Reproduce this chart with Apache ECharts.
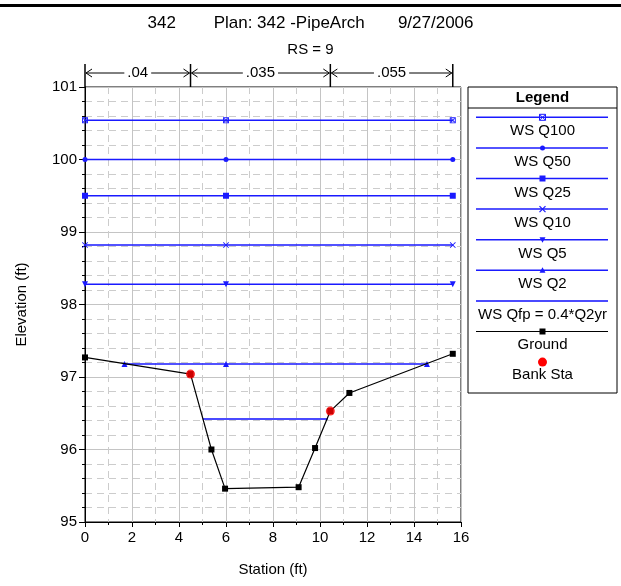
<!DOCTYPE html>
<html>
<head>
  <meta charset="UTF-8" />
  <title>342 RS = 9</title>
  <script src="https://cdn.jsdelivr.net/npm/echarts@6/dist/echarts.min.js"></script>
  <style>
    body { margin: 0; padding: 0; background: #fff; }
    #main { width: 621px; height: 586px; }
  </style>
</head>
<body>
  <div id="main"></div>
  <script>
    const FONT = "'Liberation Sans', Arial, sans-serif";

    // water surfaces
    const wsNames = ['WS Q100', 'WS Q50', 'WS Q25', 'WS Q10', 'WS Q5', 'WS Q2', 'WS Qfp = 0.4*Q2yr'];
    const wsElev = [100.54, 100.0, 99.50, 98.82, 98.28, 97.18, 96.42];
    const wsStations = [
      [0, 6, 15.65],
      [0, 6, 15.65],
      [0, 6, 15.65],
      [0, 6, 15.65],
      [0, 6, 15.65],
      [1.68, 6, 14.55],
      [5.01, 10.33]
    ];
    const wsSymbols = ['boxx', 'circle', 'rect', 'x', 'triDown', 'triUp', 'none'];

    // ground profile
    const groundSta = [0, 4.49, 5.38, 5.96, 9.09, 9.79, 10.44, 11.25, 15.65];
    const groundElev = [97.27, 97.04, 96.0, 95.46, 95.48, 96.02, 96.53, 96.78, 97.32];

    // bank stations
    const bankSta = [4.49, 10.44];
    const bankElev = [97.04, 96.53];

    // manning n values between breaks
    const nBreaks = [0, 4.49, 10.44, 15.65];
    const nValues = ['.04', '.035', '.055'];

    const BLUE = '#1a1aff';
    const symbolPaths = {
      boxx: 'path://M0,0H10V10H0Z M1.5,1.5V8.5H8.5V1.5Z M1.5,2.5L2.5,1.5L5,4L7.5,1.5L8.5,2.5L6,5L8.5,7.5L7.5,8.5L5,6L2.5,8.5L1.5,7.5L4,5Z',
      circle: 'circle',
      rect: 'rect',
      x: 'path://M0,1L1,0L5,4L9,0L10,1L6,5L10,9L9,10L5,6L1,10L0,9L4,5Z',
      triDown: 'triangle',
      triUp: 'triangle',
      none: 'none'
    };
    const symbolSizes = { boxx: 6, circle: 5, rect: 6, x: 6, triDown: 6, triUp: 6, none: 0 };

    let chart = echarts.init(document.getElementById('main'));

    let series = wsNames.map((name, i) => {
      let sym = wsSymbols[i];
      return {
        name: name,
        type: 'line',
        data: wsStations[i].map(s => [s, wsElev[i]]),
        symbol: symbolPaths[sym],
        symbolSize: symbolSizes[sym],
        symbolRotate: sym === 'triDown' ? 180 : 0,
        showSymbol: sym !== 'none',
        lineStyle: { color: i === 6 ? '#4a4aff' : BLUE, width: i === 6 ? 2 : 1.5 },
        itemStyle: { color: BLUE },
        z: 3
      };
    });

    series.push({
      name: 'Ground',
      type: 'line',
      data: groundSta.map((s, i) => [s, groundElev[i]]),
      symbol: 'rect',
      symbolSize: 6,
      lineStyle: { color: '#000', width: 1.2 },
      itemStyle: { color: '#000' },
      z: 4
    });

    series.push({
      name: 'Bank Sta',
      type: 'scatter',
      data: bankSta.map((s, i) => [s, bankElev[i]]),
      symbol: 'circle',
      symbolSize: 9,
      itemStyle: { color: '#ff0000' },
      z: 5
    });

    chart.setOption({
      animation: false,
      backgroundColor: '#fff',
      textStyle: { fontFamily: FONT },
      title: [
        {
          text: '342        Plan: 342 -PipeArch       9/27/2006',
          left: 'center',
          top: 10,
          textStyle: { fontSize: 17, fontWeight: 'normal', color: '#000', fontFamily: FONT }
        },
        {
          text: 'RS = 9',
          left: 'center',
          top: 37,
          textStyle: { fontSize: 15, fontWeight: 'normal', color: '#000', fontFamily: FONT }
        }
      ],
      grid: {
        left: 85, right: 160, top: 87, bottom: 64,
        show: true, borderColor: '#000', borderWidth: 1
      },
      xAxis: {
        type: 'value',
        min: 0, max: 16, interval: 2,
        name: 'Station (ft)',
        nameLocation: 'middle',
        nameGap: 40,
        nameTextStyle: { fontSize: 15, color: '#000', fontFamily: FONT },
        axisLine: { lineStyle: { color: '#000', width: 1 } },
        axisTick: { length: 5, lineStyle: { color: '#000' } },
        minorTick: { show: true, splitNumber: 2, length: 3, lineStyle: { color: '#000' } },
        splitLine: { show: true, lineStyle: { color: '#c4c4c4', width: 1 } },
        minorSplitLine: { show: true, lineStyle: { color: '#cccccc', width: 1, type: [7, 5] } },
        axisLabel: { fontSize: 15, color: '#000', margin: 8, fontFamily: FONT }
      },
      yAxis: {
        type: 'value',
        min: 95, max: 101, interval: 1,
        name: 'Elevation (ft)',
        nameLocation: 'middle',
        nameGap: 56,
        nameTextStyle: { fontSize: 15, color: '#000', fontFamily: FONT },
        axisLine: { lineStyle: { color: '#000', width: 1 } },
        axisTick: { length: 6, lineStyle: { color: '#000' } },
        minorTick: { show: true, splitNumber: 5, length: 3, lineStyle: { color: '#000' } },
        splitLine: { show: true, lineStyle: { color: '#c4c4c4', width: 1 } },
        minorSplitLine: { show: true, lineStyle: { color: '#cccccc', width: 1, type: [7, 5] } },
        axisLabel: { fontSize: 15, color: '#000', margin: 8, fontFamily: FONT }
      },
      series: series
    });

    // --- overlay graphics: frame line, n-value bars, legend box ---
    let g = [];
    g.push({ type: 'rect', shape: { x: 0, y: 4, width: 621, height: 3 }, style: { fill: '#000' } });

    // n-value arrows, positioned with the chart's own x scale
    let topY = chart.convertToPixel({ gridIndex: 0 }, [0, 101])[1];
    let arrowY = 73;
    let bx = nBreaks.map(s => chart.convertToPixel({ gridIndex: 0 }, [s, 101])[0]);
    bx.forEach(x => {
      g.push({ type: 'line', shape: { x1: x, y1: 64, x2: x, y2: topY }, style: { stroke: '#000', lineWidth: 1.5 } });
    });
    nValues.forEach((v, i) => {
      let x0 = bx[i] + 1, x1 = bx[i + 1] - 1;
      g.push({ type: 'line', shape: { x1: x0, y1: arrowY, x2: x1, y2: arrowY }, style: { stroke: '#000', lineWidth: 1 } });
      g.push({ type: 'polyline', shape: { points: [[x0 + 6, arrowY - 4], [x0, arrowY], [x0 + 6, arrowY + 4]] }, style: { stroke: '#000', lineWidth: 1, fill: null } });
      g.push({ type: 'polyline', shape: { points: [[x1 - 6, arrowY - 4], [x1, arrowY], [x1 - 6, arrowY + 4]] }, style: { stroke: '#000', lineWidth: 1, fill: null } });
      g.push({
        type: 'text', x: (x0 + x1) / 2, y: arrowY, z: 10,
        style: {
          text: v, fontSize: 15, fontFamily: FONT, fill: '#000',
          align: 'center', verticalAlign: 'middle',
          backgroundColor: '#fff', padding: [0, 3]
        }
      });
    });

    // legend box
    const LX = 468, LW = 149, LY = 87, LH = 306;
    const lineX0 = 476, lineX1 = 608, cx = (LX + LX + LW) / 2;
    g.push({ type: 'rect', shape: { x: LX, y: LY, width: LW, height: LH }, style: { fill: '#fff', stroke: '#000', lineWidth: 1 } });
    g.push({ type: 'line', shape: { x1: LX, y1: 108, x2: LX + LW, y2: 108 }, style: { stroke: '#000', lineWidth: 1 } });
    g.push({ type: 'text', x: cx, y: 97.5, style: { text: 'Legend', fontSize: 15, fontWeight: 'bold', fontFamily: FONT, fill: '#000', align: 'center', verticalAlign: 'middle' } });

    function legendSymbol(kind, x, y, color) {
      if (kind === 'circle') return [{ type: 'circle', shape: { cx: x, cy: y, r: 2.5 }, style: { fill: color } }];
      if (kind === 'rect') return [{ type: 'rect', shape: { x: x - 3, y: y - 3, width: 6, height: 6 }, style: { fill: color } }];
      if (kind === 'x') return [
        { type: 'line', shape: { x1: x - 3, y1: y - 3, x2: x + 3, y2: y + 3 }, style: { stroke: color, lineWidth: 1.3 } },
        { type: 'line', shape: { x1: x + 3, y1: y - 3, x2: x - 3, y2: y + 3 }, style: { stroke: color, lineWidth: 1.3 } }
      ];
      if (kind === 'boxx') return [
        { type: 'rect', shape: { x: x - 3, y: y - 3, width: 6, height: 6 }, style: { fill: null, stroke: color, lineWidth: 1 } },
        { type: 'line', shape: { x1: x - 3, y1: y - 3, x2: x + 3, y2: y + 3 }, style: { stroke: color, lineWidth: 1 } },
        { type: 'line', shape: { x1: x + 3, y1: y - 3, x2: x - 3, y2: y + 3 }, style: { stroke: color, lineWidth: 1 } }
      ];
      if (kind === 'triDown') return [{ type: 'polygon', shape: { points: [[x - 3, y - 2.5], [x + 3, y - 2.5], [x, y + 3]] }, style: { fill: color } }];
      if (kind === 'triUp') return [{ type: 'polygon', shape: { points: [[x - 3, y + 2.5], [x + 3, y + 2.5], [x, y - 3]] }, style: { fill: color } }];
      return [];
    }

    let rowY = 117.3, rowStep = 30.6;
    wsNames.forEach((name, i) => {
      let y = rowY + i * rowStep;
      g.push({ type: 'line', shape: { x1: lineX0, y1: y, x2: lineX1, y2: y }, style: { stroke: i === 6 ? '#4a4aff' : BLUE, lineWidth: i === 6 ? 2 : 1.5 } });
      legendSymbol(wsSymbols[i], cx, y, BLUE).forEach(e => g.push(e));
      g.push({ type: 'text', x: cx, y: y + 14, style: { text: name, fontSize: 15, fontFamily: FONT, fill: '#000', align: 'center', verticalAlign: 'middle' } });
    });
    let gy = rowY + 7 * rowStep;
    g.push({ type: 'line', shape: { x1: lineX0, y1: gy, x2: lineX1, y2: gy }, style: { stroke: '#000', lineWidth: 1 } });
    legendSymbol('rect', cx, gy, '#000').forEach(e => g.push(e));
    g.push({ type: 'text', x: cx, y: gy + 13.5, style: { text: 'Ground', fontSize: 15, fontFamily: FONT, fill: '#000', align: 'center', verticalAlign: 'middle' } });
    let by = rowY + 8 * rowStep;
    g.push({ type: 'circle', shape: { cx: cx, cy: by, r: 4.5 }, style: { fill: '#ff0000' } });
    g.push({ type: 'text', x: cx, y: by + 13, style: { text: 'Bank Sta', fontSize: 15, fontFamily: FONT, fill: '#000', align: 'center', verticalAlign: 'middle' } });

    chart.setOption({ graphic: { elements: g } });
  </script>
</body>
</html>
